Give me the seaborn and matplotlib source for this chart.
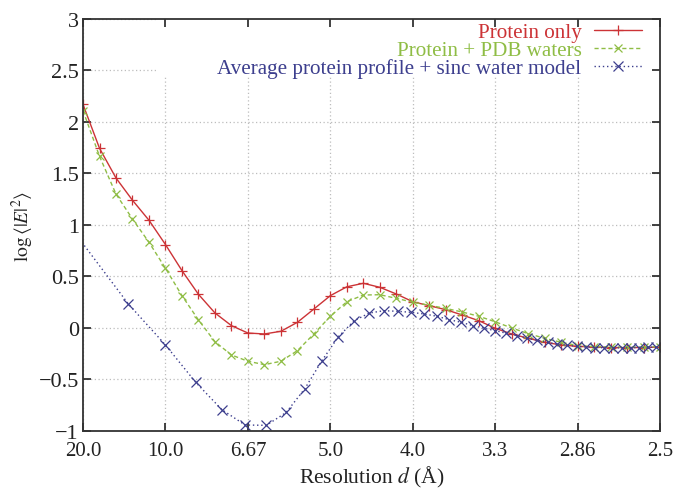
import numpy as np
import pandas as pd
import matplotlib
matplotlib.use("Agg")
import matplotlib.pyplot as plt
from matplotlib.patches import Rectangle
import seaborn as sns

# Reciprocal resolution s = 1/d (1/Å) for the two atomic-model profiles
s_model = [0.05, 0.06, 0.07, 0.08, 0.09, 0.10, 0.11, 0.12, 0.13, 0.14,
           0.15, 0.16, 0.17, 0.18, 0.19, 0.20, 0.21, 0.22, 0.23, 0.24,
           0.25, 0.26, 0.27, 0.28, 0.29, 0.30, 0.31, 0.32, 0.33, 0.34,
           0.35, 0.36, 0.37, 0.38, 0.39, 0.40]

protein_only = [2.17, 1.745, 1.456, 1.24, 1.046, 0.81, 0.557, 0.327, 0.146, 0.023,
                -0.049, -0.058, -0.032, 0.055, 0.184, 0.314, 0.40, 0.434, 0.395, 0.33,
                0.255, 0.216, 0.178, 0.126, 0.071, -0.003, -0.058, -0.10, -0.139, -0.165,
                -0.178, -0.185, -0.19, -0.19, -0.19, -0.185]

protein_pdb_waters = [2.11, 1.667, 1.30, 1.058, 0.832, 0.58, 0.314, 0.078, -0.133, -0.262,
                      -0.323, -0.356, -0.323, -0.22, -0.058, 0.114, 0.255, 0.32, 0.323, 0.288,
                      0.25, 0.22, 0.19, 0.155, 0.114, 0.06, 0.0, -0.055, -0.10, -0.139,
                      -0.171, -0.18, -0.185, -0.185, -0.185, -0.18]

# The averaged profile is sampled evenly in s^2
s_average = [0.0447, 0.0775, 0.1000, 0.1183, 0.1342, 0.1483, 0.1612, 0.1732, 0.1844, 0.1949,
             0.2049, 0.2145, 0.2236, 0.2324, 0.2408, 0.2490, 0.2569, 0.2646, 0.2720, 0.2793,
             0.2864, 0.2933, 0.3000, 0.3066, 0.3130, 0.3194, 0.3256, 0.3317, 0.3376, 0.3435,
             0.3493, 0.3550, 0.3606, 0.3661, 0.3715, 0.3768, 0.3821, 0.3873, 0.3924, 0.3975]

average_sinc = [0.93, 0.233, -0.165, -0.527, -0.793, -0.942, -0.945, -0.82, -0.592, -0.317,
                -0.084, 0.071, 0.145, 0.168, 0.162, 0.152, 0.136, 0.114, 0.081, 0.055,
                0.023, -0.003, -0.026, -0.05, -0.075, -0.10, -0.12, -0.14, -0.155, -0.168,
                -0.178, -0.185, -0.19, -0.192, -0.193, -0.193, -0.192, -0.19, -0.188, -0.185]

labels = ["Protein only", "Protein + PDB waters",
          "Average protein profile + sinc water model"]

x_ticks = [0.05, 0.10, 0.15, 0.20, 0.25, 0.30, 0.35, 0.40]
x_ticklabels = ["20.0", "10.0", "6.67", "5.0", "4.0", "3.3", "2.86", "2.5"]
y_ticks = [-1, -0.5, 0, 0.5, 1, 1.5, 2, 2.5, 3]
y_ticklabels = ["\u22121", "\u22120.5", "0", "0.5", "1", "1.5", "2", "2.5", "3"]

RED = "#cc3336"
GREEN = "#8fbd45"
BLUE = "#3d3f8e"
SERIF = ["Liberation Serif", "DejaVu Serif"]

sns.set_theme(style="ticks")
plt.rcParams["font.family"] = SERIF
plt.rcParams["mathtext.fontset"] = "stix"

df_model = pd.DataFrame({"s": s_model, "protein": protein_only, "pdb": protein_pdb_waters})
df_avg = pd.DataFrame({"s": s_average, "avg": average_sinc})

fig = plt.figure(figsize=(6.75, 4.89), dpi=100)
pos = [0.123, 0.1166, 0.855, 0.8425]

# Background axes holding only the grid, partly masked behind the key
gax = fig.add_axes(pos)
gax.set_axisbelow(True)
gax.grid(True, linestyle=(0, (1, 2)), color="#bdbdbd", linewidth=0.9)
gax.set_xticks(x_ticks)
gax.set_yticks(y_ticks)
gax.tick_params(length=0, labelbottom=False, labelleft=False)
for sp in gax.spines.values():
    sp.set_visible(False)
gax.add_patch(Rectangle((0.128, 0.859), 0.872, 0.141, transform=gax.transAxes,
                        facecolor="white", edgecolor="none", zorder=1))

ax = fig.add_axes(pos, sharex=gax, sharey=gax)
ax.patch.set_alpha(0)

sns.lineplot(data=df_model, x="s", y="protein", ax=ax, color=RED, linewidth=1.0,
             marker="+", markersize=7, markeredgewidth=0.9, markeredgecolor=RED,
             label=labels[0], sort=False, estimator=None)
sns.lineplot(data=df_model, x="s", y="pdb", ax=ax, color=GREEN, linewidth=1.0,
             linestyle=(0, (3, 2)), marker="x", markersize=6, markeredgewidth=0.9,
             markeredgecolor=GREEN, label=labels[1], sort=False, estimator=None)
sns.lineplot(data=df_avg, x="s", y="avg", ax=ax, color=BLUE, linewidth=1.0,
             linestyle=(0, (1, 2)), marker="x", markersize=6.5, markeredgewidth=0.9,
             markeredgecolor=BLUE, label=labels[2], sort=False, estimator=None)

ax.set_xlim(0.05, 0.40)
ax.set_ylim(-1, 3)
ax.set_xticks(x_ticks)
ax.set_xticklabels(x_ticklabels, fontfamily=SERIF, fontsize=15)
ax.set_yticks(y_ticks)
ax.set_yticklabels(y_ticklabels, fontfamily=SERIF, fontsize=16)
ax.tick_params(axis="both", direction="in", length=6, width=1.2, colors="#222222",
               top=True, right=True)
ax.tick_params(axis="x", pad=7)
ax.tick_params(axis="y", pad=3)
for sp in ax.spines.values():
    sp.set_visible(True)
    sp.set_color("#333333")
    sp.set_linewidth(1.3)

ax.set_xlabel("Resolution $d$ (\u00c5)", fontsize=15.5, color="#222222", labelpad=3)
ax.set_ylabel(r"$\log\langle|E|^2\rangle$", fontsize=14, color="#222222", labelpad=2)

leg = ax.legend(loc="upper right", bbox_to_anchor=(1.0, 1.036),
                markerfirst=False, labelcolor="linecolor",
                frameon=False, handlelength=2.3, handletextpad=0.57,
                labelspacing=-0.08, borderaxespad=0.75, borderpad=0.1,
                prop={"family": SERIF, "size": 15.2})

fig.savefig("out.png", dpi=100)
